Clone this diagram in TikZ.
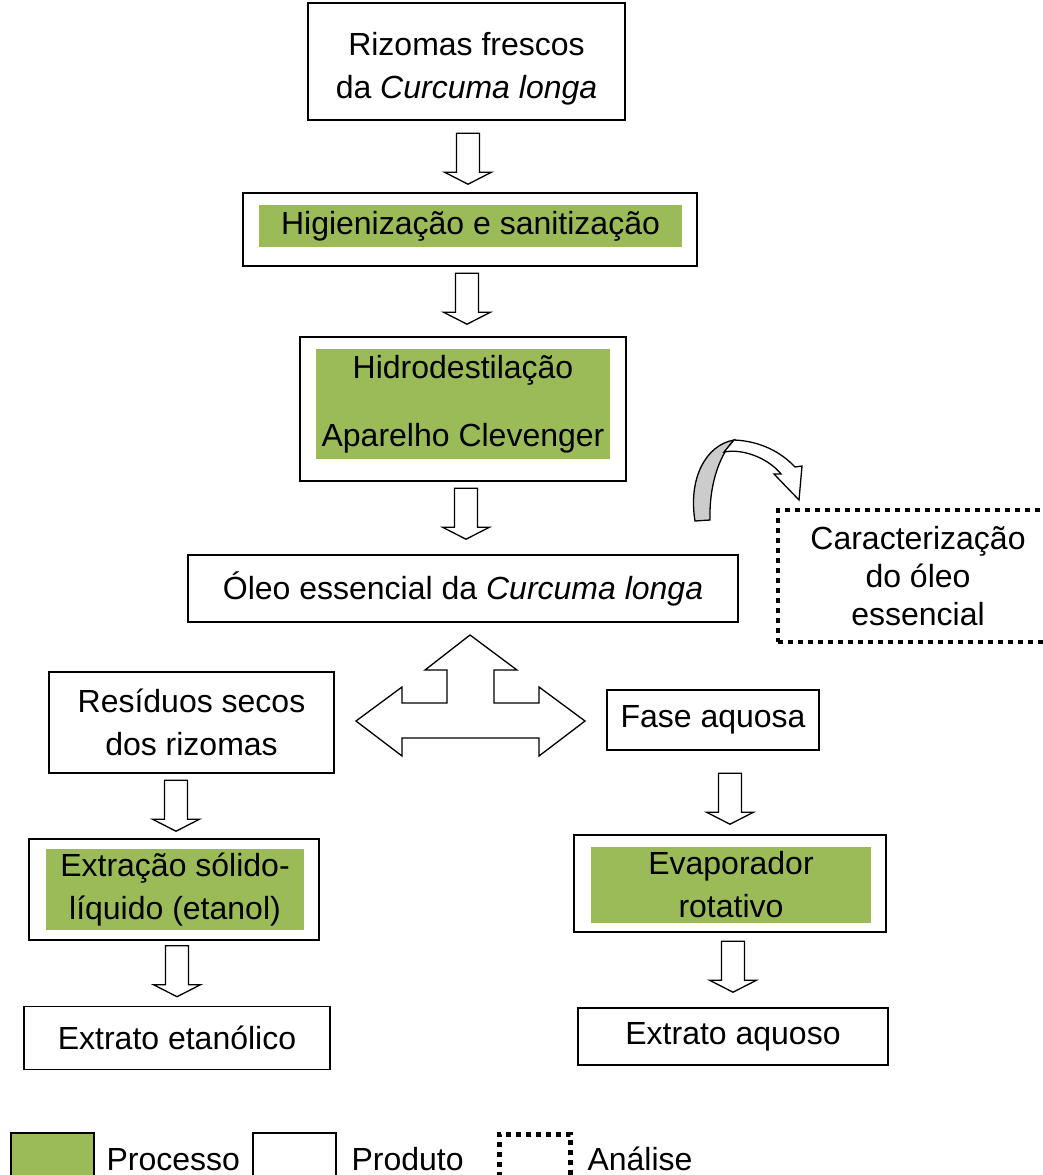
\documentclass[tikz,border=0pt]{standalone}
\usepackage{fontspec}
\setmainfont{Liberation Sans}
\usepackage{tikz}
\usetikzlibrary{positioning,calc}
\definecolor{verde}{RGB}{155,187,89}

\begin{document}
\begin{tikzpicture}[x=1pt,y=-1pt,font=\fontsize{32}{43}\selectfont,
 prod/.style={draw,line width=1.6pt,fill=white,align=center,inner sep=0pt},
 moldura/.style={draw,line width=1.6pt,inner sep=0pt},
 proc/.style={fill=verde,align=center,inner sep=0pt},
 anal/.style={draw,line width=4.5pt,dash pattern=on 5pt off 5pt,align=center,inner sep=0pt},
 bloco/.style={draw,line width=1.3pt,line join=miter,fill=white},
 seta/.pic={\draw[bloco] (-11.5,-51) -- (11.5,-51) -- (11.5,-12) -- (23.5,-12) -- (0,0) -- (-23.5,-12) -- (-11.5,-12) -- cycle;}]
 \useasboundingbox (0,0) rectangle (1043,1175);
 \node[prod,minimum width=317pt,minimum height=117pt] (riz) at (466.5,61.5) {\rule{0pt}{37pt}Rizomas frescos\\da \textit{Curcuma longa}};
 \node[moldura,minimum width=454pt,minimum height=73pt] (hig) at (470,229.5) {};
 \node[proc,minimum width=423pt,minimum height=42pt] (higt) at (470.5,226) {Higienização e sanitização};
 \node[moldura,minimum width=326pt,minimum height=144pt] (hid) at (463,409) {};
 \node[proc,minimum width=294pt,minimum height=110pt] (hidt) at (463,404) {Hidrodestilação\\[25pt]Aparelho Clevenger};
 \node[prod,minimum width=550pt,minimum height=67pt] (oleo) at (463,588.5) {Óleo essencial da \textit{Curcuma longa}};
 \node[anal,minimum width=280pt,minimum height=132pt,font=\fontsize{32}{38}\selectfont] (carac) at (918,576) {Caracterização\\do óleo\\essencial};
 \node[prod,minimum width=285pt,minimum height=101pt] (res) at (191.5,722.5) {Resíduos secos\\dos rizomas};
 \node[prod,minimum width=212pt,minimum height=60pt] (fase) at (713,720) {Fase aquosa};
 \node[moldura,minimum width=290pt,minimum height=101pt] (ext) at (174,889.5) {};
 \node[proc,minimum width=258pt,minimum height=81pt] (extt) at (175,889.5) {Extração sólido-\\líquido (etanol)};
 \node[moldura,minimum width=312pt,minimum height=97pt] (eva) at (730,883.5) {};
 \node[proc,minimum width=280pt,minimum height=76pt] (evat) at (731,884.5) {Evaporador\\rotativo};
 \node[prod,minimum width=306pt,minimum height=63pt] (etan) at (177,1038) {Extrato etanólico};
 \node[prod,minimum width=310pt,minimum height=57pt] (aquo) at (733,1036.5) {Extrato aquoso};
 \pic (s1) at ($(hig.north)+(-2,-8)$) {seta};
 \pic (s2) at ($(hid.north)+(4,-12)$) {seta};
 \pic (s3) at ($(oleo.north)+(3,-15)$) {seta};
 \pic (s4) at ($(ext.north)+(2,-7)$) {seta};
 \pic (s5) at ($(eva.north)+(0,-10)$) {seta};
 \pic (s6) at ($(etan.north)+(0,-9)$) {seta};
 \pic (s7) at ($(aquo.north)+(0,-15)$) {seta};
 \draw[bloco] (470,635) -- (517,670) -- (494,670) -- (494,703) -- (539,703) -- (539,687) -- (585,721) -- (539,756) -- (539,738) -- (402,738) -- (402,756) -- (356,721) -- (402,687) -- (402,703) -- (447,703) -- (447,670) -- (425,670) -- cycle;
 \draw[bloco,fill=gray!40] (695,521) .. controls (688,478) and (706,445) .. (734,440) .. controls (722,452) and (709,480) .. (710,520) -- cycle;
 \draw[bloco] (734,440) .. controls (760,441) and (781,452) .. (795,467) -- (802,466) -- (799,500) -- (774,474) -- (781,474) .. controls (770,460) and (745,448) .. (724,452) -- cycle;
 \node[proc,draw,line width=1.6pt,minimum width=83pt,minimum height=60pt,anchor=north west] (lproc) at (10,1132) {};
 \node[anchor=base west] (tproc) at (103,1170) {Processo};
 \node[prod,minimum width=83pt,minimum height=60pt,anchor=north west] (lprod) at (252,1132) {};
 \node[anchor=base west] (tprod) at (348,1170) {Produto};
 \node[anal,minimum width=71pt,minimum height=60pt,anchor=north west] (lanal) at (497,1132) {};
 \node[anchor=base west] (tanal) at (584,1170) {Análise};
\end{tikzpicture}
\end{document}
